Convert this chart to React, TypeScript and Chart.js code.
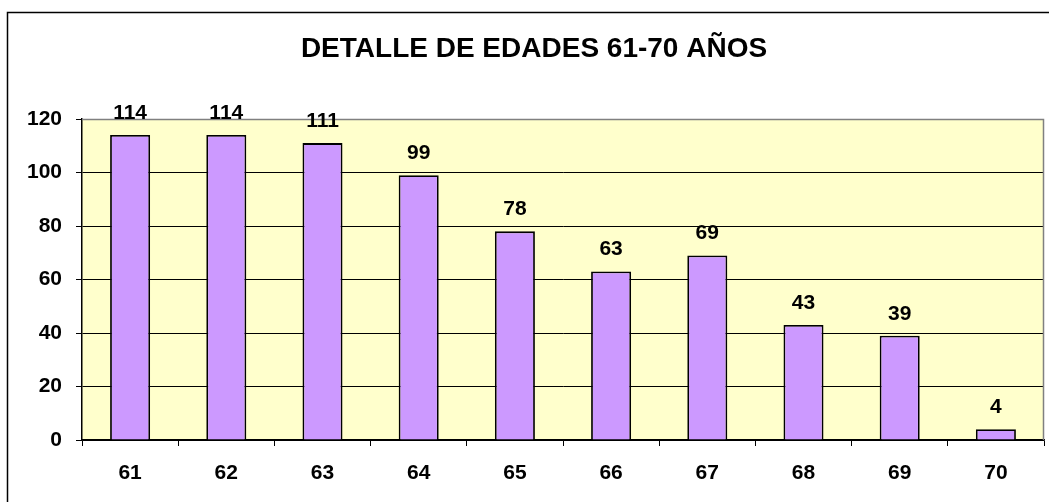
import React, { useEffect, useRef } from "react";
import { Chart, registerables } from "chart.js";

Chart.register(...registerables);

const TITLE = "DETALLE DE EDADES 61-70 AÑOS";
const CATEGORIES = ["61", "62", "63", "64", "65", "66", "67", "68", "69", "70"];
const VALUES = [114, 114, 111, 99, 78, 63, 69, 43, 39, 4];
const Y_MIN = 0;
const Y_MAX = 120;
const Y_STEP = 20;

const FONT_FAMILY = "'Liberation Sans', Arial, Helvetica, sans-serif";

const decorPlugin = {
  id: "decor",
  beforeDraw(chart: any) {
    const { ctx, chartArea } = chart;
    ctx.save();
    ctx.fillStyle = "#ffffff";
    ctx.fillRect(0, 0, chart.width, chart.height);
    // outer chart frame
    ctx.strokeStyle = "#000000";
    ctx.lineWidth = 1.5;
    ctx.strokeRect(7.5, 12.5, chart.width + 50, chart.height + 50);
    // plot background
    ctx.fillStyle = "#FFFFCC";
    ctx.fillRect(chartArea.left, chartArea.top, chartArea.right - chartArea.left, chartArea.bottom - chartArea.top);
    // title
    ctx.fillStyle = "#000000";
    ctx.font = `bold 28px ${FONT_FAMILY}`;
    ctx.textAlign = "center";
    ctx.textBaseline = "alphabetic";
    ctx.fillText(TITLE, 534, 57);
    ctx.restore();
  },
  afterDatasetsDraw(chart: any) {
    const { ctx, chartArea } = chart;
    ctx.save();
    // plot border (grey top/right)
    ctx.strokeStyle = "#808080";
    ctx.lineWidth = 1.5;
    ctx.beginPath();
    ctx.moveTo(chartArea.left, chartArea.top + 0.5);
    ctx.lineTo(chartArea.right - 0.5, chartArea.top + 0.5);
    ctx.lineTo(chartArea.right - 0.5, chartArea.bottom);
    ctx.stroke();
    // data labels
    const meta = chart.getDatasetMeta(0);
    ctx.fillStyle = "#000000";
    ctx.font = `bold 21px ${FONT_FAMILY}`;
    ctx.textAlign = "center";
    ctx.textBaseline = "alphabetic";
    meta.data.forEach((el: any, i: number) => {
      ctx.fillText(String(VALUES[i]), el.x, el.y - 16);
    });
    ctx.restore();
  },
};

export default function App() {
  const ref = useRef<HTMLCanvasElement>(null);

  useEffect(() => {
    if (!ref.current) return;
    const chart = new Chart(ref.current, {
      type: "bar",
      data: {
        labels: CATEGORIES,
        datasets: [
          {
            data: VALUES,
            backgroundColor: "#CC99FF",
            borderColor: "#000000",
            borderWidth: 1.8,
            barPercentage: 0.416,
            categoryPercentage: 1,
          },
        ],
      },
      options: {
        responsive: false,
        animation: false,
        layout: { padding: { top: 119, left: 0, right: 5, bottom: 0 } },
        plugins: {
          legend: { display: false },
          title: { display: false },
          tooltip: { enabled: false },
        },
        scales: {
          x: {
            afterFit: (s: any) => {
              s.height = 62;
            },
            grid: {
              offset: true,
              drawOnChartArea: false,
              drawTicks: true,
              tickLength: 6,
              color: "#000000",
            },
            border: { display: true, color: "#000000", width: 1.5 },
            ticks: {
              color: "#000000",
              font: { family: FONT_FAMILY, size: 21, weight: "bold" },
              padding: 15,
              maxRotation: 0,
            },
          },
          y: {
            min: Y_MIN,
            max: Y_MAX,
            afterFit: (s: any) => {
              s.width = 82;
            },
            grid: {
              color: "#000000",
              lineWidth: 1,
              tickLength: 6,
            },
            border: { display: true, color: "#000000", width: 1.5 },
            ticks: {
              stepSize: Y_STEP,
              color: "#000000",
              font: { family: FONT_FAMILY, size: 21, weight: "bold" },
              padding: 14,
            },
          },
        },
      },
      plugins: [decorPlugin],
    });
    return () => chart.destroy();
  }, []);

  return (
    <canvas
      ref={ref}
      width={1049}
      height={502}
      style={{ position: "fixed", left: 0, top: 0, width: 1049, height: 502 }}
    />
  );
}
